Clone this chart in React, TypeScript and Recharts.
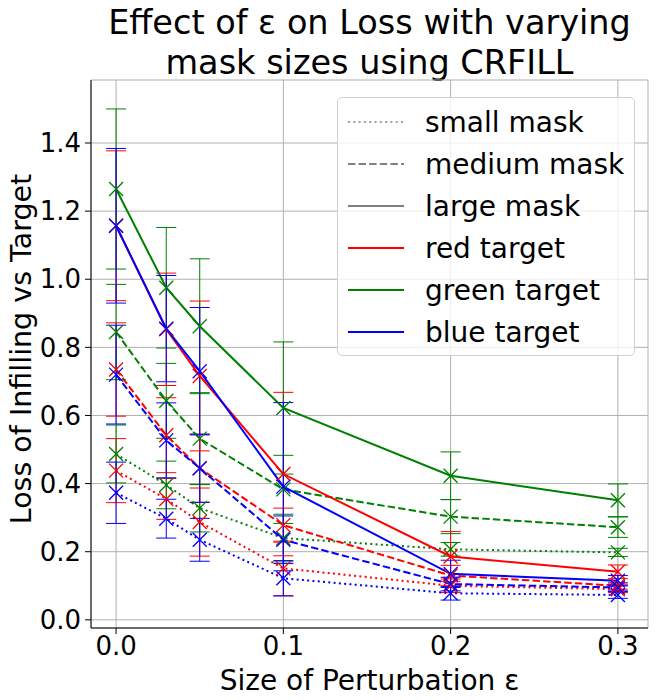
import { LineChart, Line, XAxis, YAxis, CartesianGrid, ErrorBar, Legend } from "recharts";

// perturbation sizes
const eps = [0, 0.03, 0.05, 0.1, 0.2, 0.3];

// mean loss per mask size / target colour
const redSmall = [0.438, 0.355, 0.287, 0.151, 0.1, 0.09];
const greenSmall = [0.487, 0.396, 0.328, 0.24, 0.207, 0.198];
const blueSmall = [0.373, 0.297, 0.235, 0.122, 0.078, 0.073];
const redMedium = [0.735, 0.542, 0.445, 0.278, 0.13, 0.1];
const greenMedium = [0.845, 0.643, 0.532, 0.383, 0.303, 0.272];
const blueMedium = [0.72, 0.527, 0.445, 0.235, 0.105, 0.095];
const redLarge = [1.157, 0.853, 0.716, 0.428, 0.186, 0.141];
const greenLarge = [1.265, 0.975, 0.862, 0.622, 0.423, 0.351];
const blueLarge = [1.157, 0.855, 0.73, 0.391, 0.135, 0.115];

// std deviation (error bars)
const redSmallErr = [0.094, 0.06, 0.1, 0.08, 0.02, 0.01];
const greenSmallErr = [0.085, 0.07, 0.07, 0.07, 0.02, 0.012];
const blueSmallErr = [0.09, 0.057, 0.063, 0.052, 0.02, 0.01];
const redMediumErr = [0.137, 0.11, 0.1, 0.05, 0.03, 0.01];
const greenMediumErr = [0.14, 0.11, 0.135, 0.1, 0.05, 0.03];
const blueMediumErr = [0.145, 0.11, 0.1, 0.07, 0.02, 0.01];
const redLargeErr = [0.22, 0.165, 0.22, 0.24, 0.073, 0.02];
const greenLargeErr = [0.235, 0.177, 0.198, 0.194, 0.07, 0.048];
const blueLargeErr = [0.227, 0.156, 0.187, 0.247, 0.04, 0.015];

const xTicks = [0, 0.1, 0.2, 0.3];
const yTicks = [0, 0.2, 0.4, 0.6, 0.8, 1.0, 1.2, 1.4];

const RED = "#ff0000";
const GREEN = "#008000";
const BLUE = "#0000ff";
const FONT = "DejaVu Sans";

const DOTTED = "2 3.3";
const DASHED = "7.4 3.2";

const series = [
  { key: "rs", vals: redSmall, err: redSmallErr, color: RED, dash: DOTTED },
  { key: "gs", vals: greenSmall, err: greenSmallErr, color: GREEN, dash: DOTTED },
  { key: "bs", vals: blueSmall, err: blueSmallErr, color: BLUE, dash: DOTTED },
  { key: "rm", vals: redMedium, err: redMediumErr, color: RED, dash: DASHED },
  { key: "gm", vals: greenMedium, err: greenMediumErr, color: GREEN, dash: DASHED },
  { key: "bm", vals: blueMedium, err: blueMediumErr, color: BLUE, dash: DASHED },
  { key: "rl", vals: redLarge, err: redLargeErr, color: RED, dash: undefined },
  { key: "gl", vals: greenLarge, err: greenLargeErr, color: GREEN, dash: undefined },
  { key: "bl", vals: blueLarge, err: blueLargeErr, color: BLUE, dash: undefined },
];

const data = eps.map((e, i) => {
  const row: Record<string, number> = { eps: e };
  series.forEach((s) => {
    row[s.key] = s.vals[i];
    row[s.key + "Err"] = s.err[i];
  });
  return row;
});

const legendItems = [
  { label: "small mask", color: "#808080", dash: DOTTED, w: 1.5 },
  { label: "medium mask", color: "#808080", dash: DASHED, w: 2 },
  { label: "large mask", color: "#808080", dash: undefined, w: 2 },
  { label: "red target", color: RED, dash: undefined, w: 2 },
  { label: "green target", color: GREEN, dash: undefined, w: 2 },
  { label: "blue target", color: BLUE, dash: undefined, w: 2 },
];

const xMarker = (color: string) => (p: any) => {
  const { cx, cy } = p;
  const r = 7;
  return (
    <path
      key={`${color}-${p.index}`}
      d={`M${cx - r},${cy - r}L${cx + r},${cy + r}M${cx - r},${cy + r}L${cx + r},${cy - r}`}
      stroke={color}
      strokeWidth={1.3}
      strokeDasharray="none"
      fill="none"
    />
  );
};

const LegendBox = () => (
  <div
    style={{
      width: 298,
      height: 259,
      boxSizing: "border-box",
      border: "1px solid #d0d0d0",
      borderRadius: 5,
      background: "rgba(255,255,255,0.8)",
      fontFamily: FONT,
      fontSize: 28,
      paddingTop: 3,
    }}
  >
    {legendItems.map((it) => (
      <div key={it.label} style={{ height: 42, display: "flex", alignItems: "center" }}>
        <svg width={87} height={42}>
          <line x1={10} x2={66} y1={21} y2={21} stroke={it.color} strokeWidth={it.w} strokeDasharray={it.dash} />
        </svg>
        <span style={{ color: "#000" }}>{it.label}</span>
      </div>
    ))}
  </div>
);

export default function App() {
  return (
    <div style={{ position: "absolute", left: 0, top: 0, width: 656, height: 700, background: "#fff", fontFamily: FONT }}>
      <div style={{ position: "absolute", left: 91, width: 557, top: 3, textAlign: "center", fontSize: 33.5, lineHeight: "40px", color: "#000" }}>
        Effect of ε on Loss with varying
        <br />
        mask sizes using CRFILL
      </div>
      <div
        style={{
          position: "absolute",
          left: 21,
          top: 349,
          transform: "translate(-50%, -50%) rotate(-90deg)",
          whiteSpace: "nowrap",
          fontSize: 28.5,
          color: "#000",
        }}
      >
        Loss of Infilling vs Target
      </div>
      <div style={{ position: "absolute", left: 91, width: 557, top: 664, textAlign: "center", fontSize: 28, color: "#000" }}>
        Size of Perturbation ε
      </div>
      <LineChart width={656} height={700} data={data} margin={{ top: 80, right: 8, bottom: 42, left: 0 }}>
        <CartesianGrid stroke="#b0b0b0" strokeWidth={1} />
        <XAxis
          dataKey="eps"
          type="number"
          domain={[-0.015, 0.318]}
          ticks={xTicks}
          tickFormatter={(v: number) => v.toFixed(1)}
          tick={{ fontSize: 26, fill: "#000", fontFamily: FONT }}
          tickLine={{ stroke: "#000" }}
          axisLine={{ stroke: "#000" }}
          tickSize={6}
          tickMargin={3}
          height={30}
          allowDataOverflow
        />
        <XAxis xAxisId="top" orientation="top" type="number" domain={[-0.015, 0.318]} tick={false} tickLine={false} height={0} axisLine={{ stroke: "#000" }} />
        <YAxis
          type="number"
          domain={[-0.024, 1.585]}
          ticks={yTicks}
          tickFormatter={(v: number) => v.toFixed(1)}
          tick={{ fontSize: 26, fill: "#000", fontFamily: FONT }}
          tickLine={{ stroke: "#000" }}
          axisLine={{ stroke: "#000" }}
          tickSize={6}
          tickMargin={4}
          width={91}
          allowDataOverflow
        />
        <YAxis yAxisId="right" orientation="right" type="number" domain={[0, 1]} tick={false} tickLine={false} width={0} axisLine={{ stroke: "#000" }} />
        {series.map((s) => (
          <Line
            key={s.key}
            dataKey={s.key}
            stroke={s.color}
            strokeWidth={2}
            strokeDasharray={s.dash}
            dot={xMarker(s.color)}
            activeDot={false}
            isAnimationActive={false}
          >
            <ErrorBar dataKey={s.key + "Err"} direction="y" width={10} stroke={s.color} strokeWidth={1} />
          </Line>
        ))}
        <Legend
          layout="horizontal"
          verticalAlign="middle"
          align="center"
          content={() => <LegendBox />}
          wrapperStyle={{ left: 337, top: 97, width: 298, height: 259 }}
        />
      </LineChart>
    </div>
  );
}
